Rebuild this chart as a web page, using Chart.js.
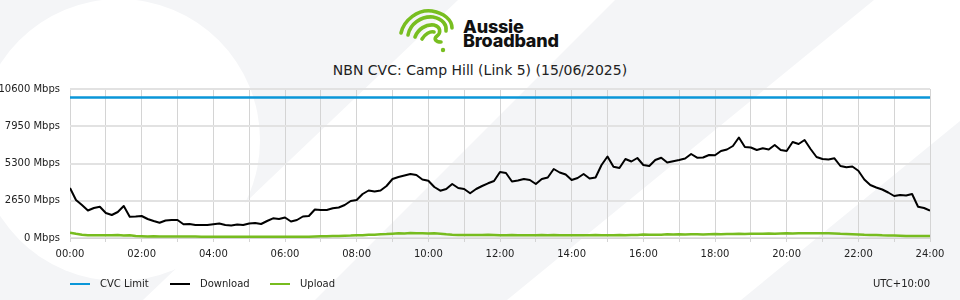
<!DOCTYPE html>
<html>
<head>
<meta charset="utf-8">
<script src="https://cdn.jsdelivr.net/npm/chart.js@4"></script>
<style>
  html, body { margin: 0; padding: 0; }
  body { width: 960px; height: 300px; position: relative; overflow: hidden; font-family: "DejaVu Sans", sans-serif; color: #222; }
  #bg { position: absolute; left: 0; top: 0; }
  #chart { position: absolute; left: 0; top: 0; }
  .logo-text { position: absolute; left: 463px; top: 19.5px; font-family: Inter, sans-serif; font-weight: 800; font-size: 18px; line-height: 14px; color: #111; letter-spacing: -0.2px; }
  #logo { position: absolute; left: 0; top: 0; }
  .title { position: absolute; left: 0; width: 960px; top: 62px; text-align: center; font-size: 14px; line-height: 16px; color: #222; }
  .legend { position: absolute; top: 277px; left: 0; width: 960px; height: 14px; font-size: 10px; line-height: 14px; }
  .legend .item { position: absolute; top: 0; }
  .legend .swatch { position: absolute; top: 6px; left: 0; width: 20px; height: 2px; }
  .legend .label { position: absolute; left: 30px; top: 0; white-space: nowrap; }
  .tz { position: absolute; right: 30px; top: 277px; font-size: 10px; line-height: 14px; }
</style>
</head>
<body>
<svg id="bg" width="960" height="300">
  <rect x="0" y="0" width="960" height="300" fill="#f4f5f7"/>
  <circle cx="119" cy="140" r="141" fill="#ffffff"/>
  <polygon points="458,0 615,0 315,300 143,300" fill="#ffffff"/>
  <polygon points="874,0 960,0 960,121 741,300 507,300" fill="#ffffff"/>
</svg>
<svg id="logo" width="960" height="60">
  <g fill="none" stroke="#78be20" stroke-width="3.6" stroke-linecap="round">
    <path d="M401,33 C404,20 418,9 432,11 C444,13 452,20 452,28"/>
    <path d="M408,35 C410,24 421,16 433,17 C443,19 447,25 446,31"/>
    <path d="M415,37 C418,29 426,24 434,25 C441,27 441,33 437,36 C433,39 436,42 441,42"/>
    <path d="M422,39 C425,34 430,31 434,32"/>
  </g>
  <circle cx="443" cy="50" r="2.2" fill="#78be20"/>
</svg>
<div class="logo-text">Aussie<br>Broadband</div>
<div class="title">NBN CVC: Camp Hill (Link 5) (15/06/2025)</div>
<canvas id="chart" width="960" height="300"></canvas>
<div class="legend" id="legend"></div>
<div class="tz">UTC+10:00</div>
<script>
// 10 minute samples, 00:00 .. 24:00
const stepMinutes = 10;

const downloadMbps = [
  3557, 2703, 2348, 1956, 2134, 2227,
  1779, 1636, 1850, 2276, 1515, 1530,
  1565, 1352, 1209, 1088, 1245, 1280,
  1280, 975, 996, 925, 925, 925,
  975, 1032, 925, 889, 960, 925,
  1032, 1067, 996, 1209, 1401, 1352,
  1458, 1174, 1280, 1530, 1565, 2027,
  1992, 1992, 2113, 2170, 2348, 2632,
  2703, 3130, 3379, 3308, 3379, 3699,
  4197, 4340, 4446, 4553, 4482, 4162,
  4076, 3628, 3365, 3486, 3842, 3557,
  3486, 3180, 3486, 3699, 3891, 4055,
  4695, 4624, 4019, 4091, 4197, 4126,
  3842, 4197, 4304, 4909, 4660, 4517,
  4126, 4268, 4553, 4233, 4304, 5193,
  5798, 5065, 4980, 5620, 5442, 5691,
  5193, 5122, 5549, 5713, 5371, 5456,
  5549, 5656, 5976, 5713, 5727, 5905,
  5883, 6189, 6296, 6545, 7150, 6474,
  6438, 6260, 6381, 6296, 6616, 6260,
  6189, 6829, 6687, 6972, 6331, 5762,
  5620, 5585, 5670, 5122, 5030, 5086,
  4788, 4162, 3770, 3593, 3450, 3237,
  2988, 3059, 3024, 3130, 2220, 2134,
  1942
];

const uploadMbps = [
  380, 300, 230, 200, 190, 190,
  200, 190, 210, 180, 200, 150,
  130, 110, 120, 110, 100, 100,
  100, 100, 100, 100, 90, 90,
  90, 90, 90, 90, 90, 90,
  90, 90, 90, 90, 90, 90,
  90, 90, 90, 90, 90, 110,
  130, 120, 150, 140, 160, 170,
  200, 190, 230, 240, 260, 280,
  310, 330, 320, 350, 340, 330,
  320, 330, 310, 260, 230, 220,
  220, 210, 220, 220, 230, 220,
  200, 200, 210, 200, 190, 200,
  190, 210, 200, 210, 200, 200,
  190, 200, 200, 190, 210, 200,
  200, 190, 210, 200, 220, 210,
  250, 240, 230, 240, 260, 250,
  260, 250, 270, 260, 250, 270,
  280, 270, 290, 280, 300, 290,
  300, 310, 300, 320, 310, 320,
  330, 320, 330, 340, 330, 340,
  340, 330, 320, 300, 290, 270,
  250, 230, 220, 210, 190, 180,
  170, 160, 150, 140, 140, 140,
  140
];

const cvcLimitMbps = 10000;
const yMax = 10600;
const yStep = 2650;

const colors = { cvc: "#0a96d8", download: "#000000", upload: "#77bc1f" };

function pad2(n) { return (n < 10 ? "0" : "") + n; }

const toPoints = arr => arr.map((v, i) => ({ x: i * stepMinutes, y: v }));
const cvcPoints = downloadMbps.map((v, i) => ({ x: i * stepMinutes, y: cvcLimitMbps }));

const datasets = [
  { label: "CVC Limit", data: cvcPoints, borderColor: colors.cvc, borderWidth: 2.5 },
  { label: "Download", data: toPoints(downloadMbps), borderColor: colors.download, borderWidth: 2 },
  { label: "Upload", data: toPoints(uploadMbps), borderColor: colors.upload, borderWidth: 2.5 }
];

new Chart(document.getElementById("chart").getContext("2d"), {
  type: "line",
  data: { datasets: datasets },
  options: {
    responsive: false,
    animation: false,
    layout: { padding: { left: 0, right: 30, top: 89, bottom: 42 } },
    elements: { point: { radius: 0 }, line: { tension: 0, borderJoinStyle: "round" } },
    plugins: { legend: { display: false }, tooltip: { enabled: false } },
    scales: {
      x: {
        type: "linear",
        min: 0,
        max: 1440,
        afterFit: s => { s.height = 20; },
        grid: { color: "#d4d4d4", lineWidth: 1, tickLength: 4 },
        border: { color: "#d4d4d4" },
        ticks: {
          stepSize: 60,
          autoSkip: false,
          maxRotation: 0,
          padding: 6,
          color: "#222",
          font: { family: "DejaVu Sans", size: 10 },
          callback: v => (v % 120 === 0 ? pad2(v / 60) + ":00" : "")
        }
      },
      y: {
        min: 0,
        max: yMax,
        afterFit: s => { s.width = 70; },
        grid: { color: "#e2e2e2", lineWidth: 2, drawTicks: false },
        border: { display: false },
        ticks: {
          stepSize: yStep,
          padding: 10,
          color: "#222",
          font: { family: "DejaVu Sans", size: 10 },
          callback: v => v + " Mbps"
        }
      }
    }
  }
});

// legend, fixed 100px pitch
const legend = document.getElementById("legend");
datasets.forEach((ds, i) => {
  const item = document.createElement("div");
  item.className = "item";
  item.style.left = (70 + i * 100) + "px";
  item.innerHTML = '<div class="swatch" style="background:' + ds.borderColor + '"></div><div class="label">' + ds.label + "</div>";
  legend.appendChild(item);
});
</script>
</body>
</html>
